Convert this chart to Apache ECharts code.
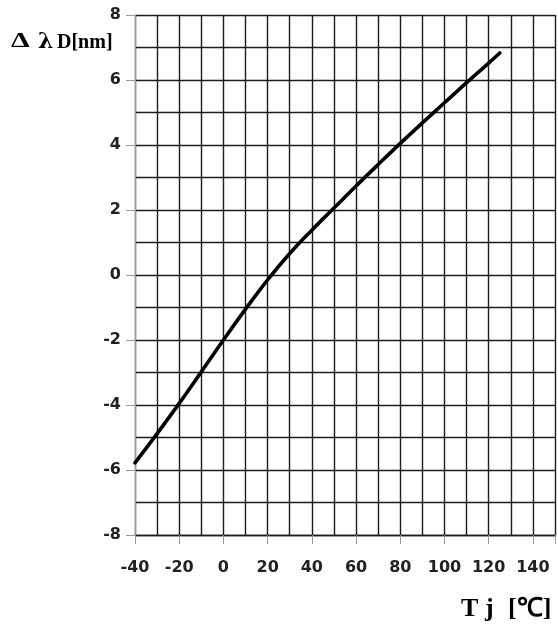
<!DOCTYPE html>
<html>
<head>
<meta charset="utf-8">
<script src="https://cdn.jsdelivr.net/npm/echarts@6/dist/echarts.min.js"></script>
<style>
  html, body { margin: 0; padding: 0; background: #fff; }
  #chart { width: 558px; height: 624px; }
</style>
</head>
<body>
<div id="chart"></div>
<script>
// Junction temperature Tj (°C) vs. dominant wavelength shift Δλ_D (nm)
const tempC = [-40, -30, -20, -10, 0, 10, 20, 30, 40, 50, 60, 70, 80, 90, 100, 110, 120, 125];
const shiftNm = [-5.78, -4.88, -3.95, -2.98, -2.0, -1.05, -0.15, 0.66, 1.38, 2.06, 2.74, 3.4, 4.05, 4.68, 5.3, 5.92, 6.52, 6.83];

const xMin = -40, xMax = 150, xGridStep = 10, xLabelStep = 20;
const yMin = -8, yMax = 8, yGridStep = 1, yLabelStep = 2;

const gridColor = '#1c1c1c';
const labelFont = { fontFamily: 'DejaVu Sans', fontWeight: 'bold', fontSize: 16, color: '#222' };
const titleFont = 'Liberation Serif';
const hidden = { show: false };

const chart = echarts.init(document.getElementById('chart'), null, { renderer: 'canvas' });

chart.setOption({
  animation: false,
  backgroundColor: '#fff',
  grid: { left: 135, top: 15, right: -2, bottom: 89, containLabel: false },
  xAxis: [
    {
      // fine grid every 10 °C
      type: 'value', min: xMin, max: xMax, interval: xGridStep,
      axisLine: { show: true, onZero: false, lineStyle: { color: gridColor, width: 1.4 } },
      axisTick: hidden, axisLabel: hidden,
      splitLine: { show: true, lineStyle: { color: gridColor, width: 1.4 } }
    },
    {
      // labelled ticks every 20 °C
      type: 'value', position: 'bottom', min: xMin, max: xMax, interval: xLabelStep,
      axisLine: { show: false, onZero: false }, splitLine: hidden,
      axisTick: { show: true, length: 9, lineStyle: { color: '#999', width: 1 } },
      axisLabel: Object.assign({
        margin: 25,
        formatter: v => (v <= 140 ? String(v) : '')
      }, labelFont)
    }
  ],
  yAxis: [
    {
      // fine grid every 1 nm
      type: 'value', min: yMin, max: yMax, interval: yGridStep,
      axisLine: { show: true, onZero: false, lineStyle: { color: '#9a9a9a', width: 1 } },
      axisTick: hidden, axisLabel: hidden,
      splitLine: { show: true, lineStyle: { color: gridColor, width: 1.4 } }
    },
    {
      // labelled ticks every 2 nm
      type: 'value', position: 'left', min: yMin, max: yMax, interval: yLabelStep,
      axisLine: { show: false, onZero: false }, splitLine: hidden,
      axisTick: { show: true, length: 9, lineStyle: { color: '#999', width: 1 } },
      axisLabel: Object.assign({ margin: 14 }, labelFont)
    }
  ],
  series: [{
    type: 'line',
    xAxisIndex: 0, yAxisIndex: 0,
    data: tempC.map((t, i) => [t, shiftNm[i]]),
    smooth: 0.4,
    showSymbol: false,
    lineStyle: { color: '#000', width: 3.6, cap: 'round' },
    z: 5
  }],
  graphic: [
    // y-axis name: Δ λD[nm]
    { type: 'text', x: 11, y: 30, scaleX: 1.35, style: { text: 'Δ', fontFamily: titleFont, fontWeight: 'bold', fontSize: 22, fill: '#000' } },
    { type: 'text', x: 38, y: 31, style: { text: 'λ', fontFamily: 'DejaVu Serif', fontWeight: 'bold', fontSize: 22, fill: '#000' } },
    { type: 'text', x: 57, y: 33, style: { text: 'D[nm]', fontFamily: titleFont, fontWeight: 'bold', fontSize: 20, fill: '#000' } },
    // x-axis name: T j [℃]
    { type: 'text', x: 461, y: 596, style: { text: 'T', fontFamily: titleFont, fontWeight: 'bold', fontSize: 26, fill: '#000' } },
    { type: 'text', x: 485, y: 596, style: { text: 'j', fontFamily: titleFont, fontWeight: 'bold', fontSize: 26, fill: '#000' } },
    { type: 'text', x: 508, y: 596, style: { text: '[℃]', fontFamily: titleFont, fontWeight: 'bold', fontSize: 26, fill: '#000' } }
  ]
});
</script>
</body>
</html>
